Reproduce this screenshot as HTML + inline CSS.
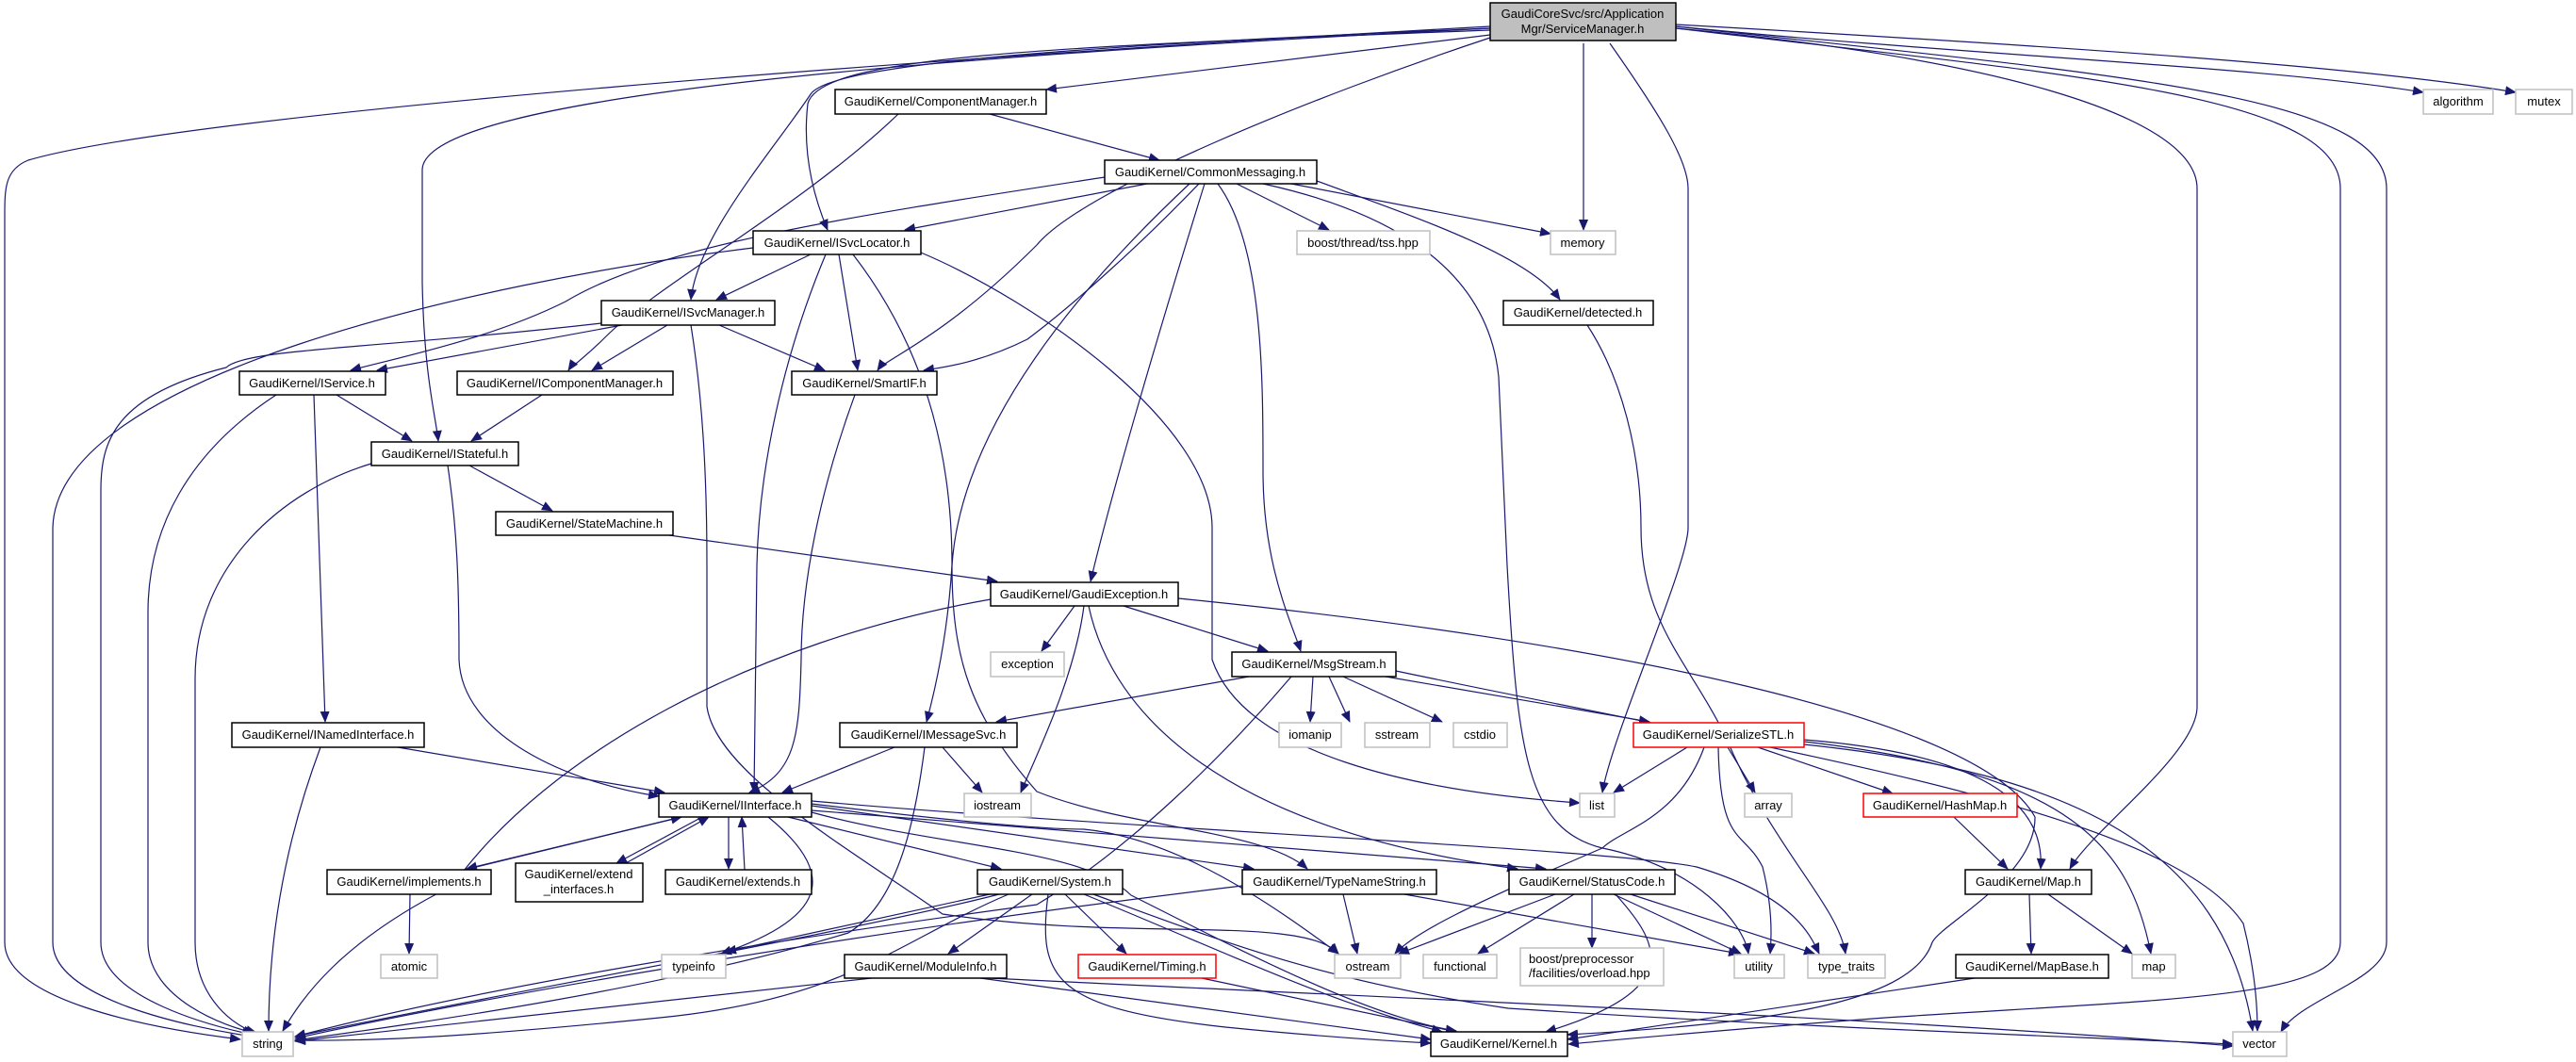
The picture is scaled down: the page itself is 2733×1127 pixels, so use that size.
<!DOCTYPE html>
<html><head><meta charset="utf-8"><style>
html,body{margin:0;padding:0;background:#fff;}
svg{display:block;}
text{font-family:"Liberation Sans",sans-serif;font-size:13px;fill:#000;}
.e{fill:none;stroke:#191970;stroke-width:1.2;marker-end:url(#a);}
.n{fill:#fff;stroke:#000;stroke-width:1.5;}
.g{fill:#fff;stroke:#bfbfbf;stroke-width:1.5;}
.r{fill:#fff;stroke:#ff0000;stroke-width:1.5;}
</style></head><body>
<svg width="2733" height="1127" viewBox="0 0 2733 1127" xmlns="http://www.w3.org/2000/svg">
<defs><marker id="a" markerUnits="userSpaceOnUse" markerWidth="12" markerHeight="10" refX="11" refY="5" orient="auto"><path d="M0,0 L12,5 L0,10 z" fill="#191970"/></marker></defs>

<!-- edges from root -->
<path class="e" d="M1581,28 C1000,60 200,120 30,170 C5,180 5,200 5,230 L5,1000 C5,1060 150,1090 255,1103"/>
<path class="e" d="M1581,30 C1100,50 880,70 860,100 C820,160 740,250 733,318"/>
<path class="e" d="M1581,32 C1100,50 870,60 857,110 C850,170 868,220 878,244"/>
<path class="e" d="M1581,30 C1000,60 450,100 448,180 L448,300 C450,400 462,440 465,468"/>
<path class="e" d="M1581,37 L1110,95"/>
<path class="e" d="M1581,40 C1400,100 1150,200 1100,260 C1000,360 940,380 931,393"/>
<path class="e" d="M1680,46 L1680,244"/>
<path class="e" d="M1708,46 C1760,120 1791,170 1791,200 L1791,560 C1791,600 1710,780 1700,841"/>
<path class="e" d="M1778,30 C2100,60 2331,120 2331,200 L2331,750 C2331,800 2220,880 2196,922"/>
<path class="e" d="M1778,30 C2200,80 2483,100 2483,200 L2483,1000 C2483,1060 2300,1060 2000,1080 C1800,1095 1700,1105 1664,1108"/>
<path class="e" d="M1778,28 C2250,80 2532,100 2532,200 L2532,1000 C2532,1040 2440,1060 2420,1095"/>
<path class="e" d="M1778,28 C2100,60 2400,70 2571,98"/>
<path class="e" d="M1778,26 C2200,50 2500,70 2669,98"/>

<!-- ComponentManager / CommonMessaging -->
<path class="e" d="M1050,121 L1230,170"/>
<path class="e" d="M953,121 C850,220 700,300 643,357 C620,380 605,390 603,393"/>
<path class="e" d="M1217,195 L960,244"/>
<path class="e" d="M1172,188 C900,230 700,260 600,320 C520,360 420,380 372,393"/>
<path class="e" d="M1312,195 L1410,244"/>
<path class="e" d="M1370,195 L1645,248"/>
<path class="e" d="M1397,192 C1500,230 1620,270 1655,318"/>
<path class="e" d="M1272,195 C1200,270 1130,330 1090,360 C1040,385 1000,390 980,393"/>
<path class="e" d="M1262,195 C1150,300 1020,450 1010,600 C1005,680 990,740 983,766"/>
<path class="e" d="M1278,195 C1230,350 1180,520 1157,617"/>
<path class="e" d="M1292,195 C1340,260 1340,400 1340,500 C1340,600 1370,660 1380,691"/>
<path class="e" d="M1340,195 C1500,230 1580,300 1590,400 L1599,600 C1610,800 1620,880 1700,900 C1800,920 1850,980 1855,1012"/>

<!-- ISvcLocator -->
<path class="e" d="M860,270 L760,318"/>
<path class="e" d="M890,270 L910,393"/>
<path class="e" d="M799,263 C500,300 60,400 56,560 L56,1000 C56,1060 200,1090 268,1100"/>
<path class="e" d="M876,270 C830,380 805,500 803,600 L800,841"/>
<path class="e" d="M905,270 C990,380 1010,500 1010,600 C1010,700 1030,760 1100,840 C1200,880 1340,880 1387,922"/>
<path class="e" d="M977,268 C1100,320 1286,450 1286,560 L1286,700 C1320,800 1500,840 1676,852"/>

<!-- ISvcManager -->
<path class="e" d="M660,345 L400,393"/>
<path class="e" d="M708,345 L628,393"/>
<path class="e" d="M763,345 L875,393"/>
<path class="e" d="M638,343 C400,370 260,370 240,390 C120,420 107,470 107,520 L107,1000 C107,1060 230,1090 268,1098"/>
<path class="e" d="M733,345 C745,420 750,500 750,600 L750,750 C760,820 900,900 1000,970 C1200,1000 1380,970 1420,1012"/>

<!-- IService / IComponentManager / SmartIF / IStateful -->
<path class="e" d="M357,419 L437,468"/>
<path class="e" d="M293,419 C200,480 157,560 157,650 L157,1000 C157,1060 240,1090 270,1096"/>
<path class="e" d="M333,419 L345,766"/>
<path class="e" d="M575,419 L500,468"/>
<path class="e" d="M907,419 C870,520 850,620 850,700 C848,780 845,820 795,841"/>
<path class="e" d="M498,494 L586,542"/>
<path class="e" d="M394,492 C300,520 207,600 207,720 L207,1000 C207,1060 250,1090 272,1096"/>
<path class="e" d="M475,494 C485,560 487,620 487,700 C490,780 600,830 699,845"/>

<!-- StateMachine / GaudiException -->
<path class="e" d="M710,568 L1058,617"/>
<path class="e" d="M1140,643 L1105,691"/>
<path class="e" d="M1192,643 L1345,691"/>
<path class="e" d="M1150,643 C1140,720 1100,800 1083,841"/>
<path class="e" d="M1155,643 C1180,760 1300,880 1610,922"/>
<path class="e" d="M1051,636 C800,680 580,800 480,940 C360,1000 320,1060 300,1094"/>
<path class="e" d="M1250,635 C1700,680 2100,760 2159,867 C2160,930 2060,980 2050,1000 C2030,1060 1900,1085 1663,1098"/>

<!-- MsgStream -->
<path class="e" d="M1325,718 L1057,766"/>
<path class="e" d="M1393,718 L1390,766"/>
<path class="e" d="M1410,718 L1432,766"/>
<path class="e" d="M1425,718 L1530,766"/>
<path class="e" d="M1470,718 L1750,766"/>
<path class="e" d="M1481,712 C1900,800 2300,860 2380,980 C2395,1040 2395,1080 2395,1094"/>
<path class="e" d="M1370,718 C1300,800 1200,900 1100,960 C800,1000 500,1050 313,1100"/>

<!-- IMessageSvc / INamedInterface -->
<path class="e" d="M949,793 L830,841"/>
<path class="e" d="M1000,793 L1042,841"/>
<path class="e" d="M981,793 C970,880 950,960 900,990 C700,1050 450,1085 313,1104"/>
<path class="e" d="M422,793 L705,841"/>
<path class="e" d="M340,793 C300,900 285,1000 285,1094"/>

<!-- SerializeSTL / HashMap / Map -->
<path class="e" d="M1790,793 L1712,841"/>
<path class="e" d="M1833,793 L1862,841"/>
<path class="e" d="M1865,793 L2008,842"/>
<path class="e" d="M1808,793 C1780,870 1720,880 1700,900 C1560,960 1500,990 1480,1012"/>
<path class="e" d="M1823,793 C1825,900 1850,880 1870,920 C1880,960 1880,990 1878,1012"/>
<path class="e" d="M1914,785 C2100,800 2170,850 2165,922"/>
<path class="e" d="M1914,787 C2200,820 2260,900 2282,1012"/>
<path class="e" d="M1914,790 C2200,820 2360,900 2390,1094"/>
<path class="e" d="M2073,867 L2130,922"/>
<path class="e" d="M2153,949 L2155,1012"/>
<path class="e" d="M2173,949 L2262,1012"/>
<path class="e" d="M2095,1038 L1663,1103"/>

<!-- IInterface fan out -->
<path class="e" d="M723,867 L495,922"/>
<path class="e" d="M493,923 L723,867"/>
<path class="e" d="M745,867 L654,916"/>
<path class="e" d="M664,916 L752,867"/>
<path class="e" d="M773,867 L773,922"/>
<path class="e" d="M790,923 L787,867"/>
<path class="e" d="M815,867 C880,920 890,970 765,1012"/>
<path class="e" d="M836,867 L1062,922"/>
<path class="e" d="M861,855 L1330,922"/>
<path class="e" d="M861,860 L1640,922"/>
<path class="e" d="M861,850 C1200,880 1700,900 1800,920 C1900,950 1920,990 1930,1012"/>
<path class="e" d="M861,853 C1000,870 1100,880 1150,880 C1250,890 1350,960 1420,1012"/>
<path class="e" d="M861,862 C1000,900 1150,900 1200,950 C1300,1000 1450,1080 1545,1094"/>
<path class="e" d="M435,949 L434,1012"/>

<!-- System -->
<path class="e" d="M1050,949 L770,1010"/>
<path class="e" d="M1060,949 C900,990 500,1060 313,1100"/>
<path class="e" d="M1070,949 C950,1000 900,1060 700,1080 C500,1100 400,1105 313,1104"/>
<path class="e" d="M1095,949 L1006,1012"/>
<path class="e" d="M1130,949 L1195,1012"/>
<path class="e" d="M1112,949 C1100,1040 1120,1070 1300,1090 C1400,1100 1480,1105 1518,1107"/>
<path class="e" d="M1150,949 C1300,1010 1400,1060 1530,1095"/>
<path class="e" d="M1160,949 C1300,1000 1400,1040 1600,1070 C1900,1090 2200,1100 2369,1108"/>

<!-- TypeNameString -->
<path class="e" d="M1318,940 C900,990 500,1060 313,1102"/>
<path class="e" d="M1425,949 L1440,1012"/>
<path class="e" d="M1490,949 L1845,1012"/>

<!-- StatusCode -->
<path class="e" d="M1650,949 L1484,1012"/>
<path class="e" d="M1670,949 L1568,1012"/>
<path class="e" d="M1689,949 L1689,1006"/>
<path class="e" d="M1712,949 L1847,1012"/>
<path class="e" d="M1730,949 L1925,1012"/>
<path class="e" d="M1714,949 C1760,1000 1790,1050 1640,1095"/>

<!-- ModuleInfo / Timing -->
<path class="e" d="M925,1038 L313,1105"/>
<path class="e" d="M1040,1038 L1518,1103"/>
<path class="e" d="M1050,1038 C1500,1060 2000,1080 2369,1110"/>
<path class="e" d="M1275,1038 L1545,1095"/>

<!-- detected -->
<path class="e" d="M1684,345 C1720,400 1741,480 1741,560 C1741,660 1790,700 1830,780 C1880,900 1950,960 1958,1012"/>

<!-- nodes -->
<rect x="1581" y="3" width="197" height="40" fill="#bfbfbf" stroke="#000" stroke-width="1.5"/>
<text x="1679" y="19" text-anchor="middle">GaudiCoreSvc/src/Application</text>
<text x="1679" y="35" text-anchor="middle">Mgr/ServiceManager.h</text>

<rect class="n" x="886" y="95" width="224" height="26"/><text x="998" y="112" text-anchor="middle">GaudiKernel/ComponentManager.h</text>
<rect class="g" x="2571" y="95" width="74" height="26"/><text x="2608" y="112" text-anchor="middle">algorithm</text>
<rect class="g" x="2669" y="95" width="60" height="26"/><text x="2699" y="112" text-anchor="middle">mutex</text>
<rect class="n" x="1172" y="170" width="225" height="25"/><text x="1284" y="187" text-anchor="middle">GaudiKernel/CommonMessaging.h</text>
<rect class="n" x="799" y="245" width="178" height="25"/><text x="888" y="262" text-anchor="middle">GaudiKernel/ISvcLocator.h</text>
<rect class="g" x="1376" y="245" width="141" height="25"/><text x="1446" y="262" text-anchor="middle">boost/thread/tss.hpp</text>
<rect class="g" x="1645" y="245" width="69" height="25"/><text x="1679" y="262" text-anchor="middle">memory</text>
<rect class="n" x="638" y="319" width="184" height="26"/><text x="730" y="336" text-anchor="middle">GaudiKernel/ISvcManager.h</text>
<rect class="n" x="1595" y="319" width="159" height="26"/><text x="1674" y="336" text-anchor="middle">GaudiKernel/detected.h</text>
<rect class="n" x="254" y="394" width="155" height="25"/><text x="331" y="411" text-anchor="middle">GaudiKernel/IService.h</text>
<rect class="n" x="485" y="394" width="229" height="25"/><text x="599" y="411" text-anchor="middle">GaudiKernel/IComponentManager.h</text>
<rect class="n" x="840" y="394" width="154" height="25"/><text x="917" y="411" text-anchor="middle">GaudiKernel/SmartIF.h</text>
<rect class="n" x="394" y="469" width="156" height="25"/><text x="472" y="486" text-anchor="middle">GaudiKernel/IStateful.h</text>
<rect class="n" x="526" y="543" width="188" height="25"/><text x="620" y="560" text-anchor="middle">GaudiKernel/StateMachine.h</text>
<rect class="n" x="1051" y="618" width="199" height="25"/><text x="1150" y="635" text-anchor="middle">GaudiKernel/GaudiException.h</text>
<rect class="g" x="1051" y="692" width="78" height="26"/><text x="1090" y="709" text-anchor="middle">exception</text>
<rect class="n" x="1307" y="692" width="174" height="26"/><text x="1394" y="709" text-anchor="middle">GaudiKernel/MsgStream.h</text>
<rect class="n" x="246" y="767" width="204" height="26"/><text x="348" y="784" text-anchor="middle">GaudiKernel/INamedInterface.h</text>
<rect class="n" x="891" y="767" width="188" height="26"/><text x="985" y="784" text-anchor="middle">GaudiKernel/IMessageSvc.h</text>
<rect class="g" x="1357" y="767" width="66" height="26"/><text x="1390" y="784" text-anchor="middle">iomanip</text>
<rect class="g" x="1448" y="767" width="69" height="26"/><text x="1482" y="784" text-anchor="middle">sstream</text>
<rect class="g" x="1542" y="767" width="57" height="26"/><text x="1570" y="784" text-anchor="middle">cstdio</text>
<rect class="r" x="1733" y="767" width="181" height="26"/><text x="1823" y="784" text-anchor="middle">GaudiKernel/SerializeSTL.h</text>
<rect class="n" x="699" y="842" width="162" height="25"/><text x="780" y="859" text-anchor="middle">GaudiKernel/IInterface.h</text>
<rect class="g" x="1023" y="842" width="71" height="25"/><text x="1058" y="859" text-anchor="middle">iostream</text>
<rect class="g" x="1676" y="842" width="37" height="25"/><text x="1694" y="859" text-anchor="middle">list</text>
<rect class="g" x="1851" y="842" width="50" height="25"/><text x="1876" y="859" text-anchor="middle">array</text>
<rect class="r" x="1977" y="842" width="163" height="25"/><text x="2058" y="859" text-anchor="middle">GaudiKernel/HashMap.h</text>
<rect class="n" x="347" y="923" width="174" height="26"/><text x="434" y="940" text-anchor="middle">GaudiKernel/implements.h</text>
<rect class="n" x="547" y="916" width="135" height="41"/><text x="614" y="932" text-anchor="middle">GaudiKernel/extend</text><text x="614" y="948" text-anchor="middle">_interfaces.h</text>
<rect class="n" x="706" y="923" width="155" height="26"/><text x="783" y="940" text-anchor="middle">GaudiKernel/extends.h</text>
<rect class="n" x="1037" y="923" width="154" height="26"/><text x="1114" y="940" text-anchor="middle">GaudiKernel/System.h</text>
<rect class="n" x="1318" y="923" width="206" height="26"/><text x="1421" y="940" text-anchor="middle">GaudiKernel/TypeNameString.h</text>
<rect class="n" x="1601" y="923" width="176" height="26"/><text x="1689" y="940" text-anchor="middle">GaudiKernel/StatusCode.h</text>
<rect class="n" x="2085" y="923" width="134" height="26"/><text x="2152" y="940" text-anchor="middle">GaudiKernel/Map.h</text>
<rect class="g" x="404" y="1013" width="60" height="25"/><text x="434" y="1030" text-anchor="middle">atomic</text>
<rect class="g" x="702" y="1013" width="68" height="25"/><text x="736" y="1030" text-anchor="middle">typeinfo</text>
<rect class="n" x="896" y="1013" width="172" height="25"/><text x="982" y="1030" text-anchor="middle">GaudiKernel/ModuleInfo.h</text>
<rect class="r" x="1144" y="1013" width="146" height="25"/><text x="1217" y="1030" text-anchor="middle">GaudiKernel/Timing.h</text>
<rect class="g" x="1416" y="1013" width="70" height="25"/><text x="1451" y="1030" text-anchor="middle">ostream</text>
<rect class="g" x="1510" y="1013" width="78" height="25"/><text x="1549" y="1030" text-anchor="middle">functional</text>
<rect class="g" x="1613" y="1006" width="152" height="40"/><text x="1622" y="1022">boost/preprocessor</text><text x="1622" y="1037">/facilities/overload.hpp</text>
<rect class="g" x="1840" y="1013" width="53" height="25"/><text x="1866" y="1030" text-anchor="middle">utility</text>
<rect class="g" x="1918" y="1013" width="82" height="25"/><text x="1959" y="1030" text-anchor="middle">type_traits</text>
<rect class="n" x="2075" y="1013" width="162" height="25"/><text x="2156" y="1030" text-anchor="middle">GaudiKernel/MapBase.h</text>
<rect class="g" x="2262" y="1013" width="46" height="25"/><text x="2285" y="1030" text-anchor="middle">map</text>
<rect class="g" x="257" y="1095" width="54" height="26"/><text x="284" y="1112" text-anchor="middle">string</text>
<rect class="n" x="1518" y="1095" width="145" height="26"/><text x="1590" y="1112" text-anchor="middle">GaudiKernel/Kernel.h</text>
<rect class="g" x="2369" y="1095" width="57" height="26"/><text x="2397" y="1112" text-anchor="middle">vector</text>
</svg>
</body></html>
